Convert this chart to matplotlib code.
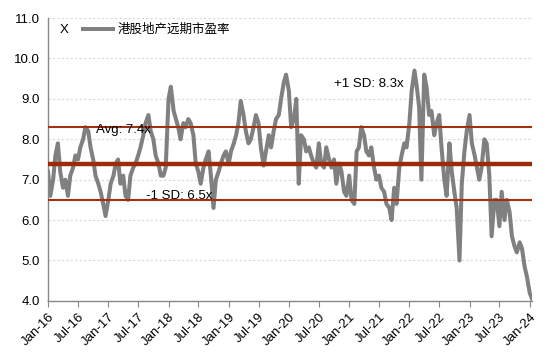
import pandas as pd
import matplotlib
matplotlib.use("Agg")
import matplotlib.pyplot as plt
import matplotlib.dates as mdates

plt.rcParams['font.family'] = ['Liberation Sans', 'Noto Sans CJK SC', 'DejaVu Sans']

series_name = '港股地产远期市盈率'

# forward P/E, two readings a month (1st and 15th)
pe_2016 = [7.2, 6.6, 7.0, 7.6, 7.9, 7.2, 6.8, 7.0, 6.6, 7.1, 7.3, 7.6,
           7.5, 7.8, 8.0, 8.3, 8.2, 7.8, 7.5, 7.1, 6.9, 6.7, 6.4, 6.1]
pe_2017 = [6.5, 6.9, 7.1, 7.4, 7.5, 6.9, 7.1, 6.6, 6.5, 7.1, 7.3, 7.4,
           7.6, 7.8, 8.1, 8.4, 8.6, 8.2, 8.0, 7.6, 7.4, 7.1, 7.1, 7.3]
pe_2018 = [9.0, 9.3, 8.7, 8.5, 8.3, 8.0, 8.4, 8.3, 8.5, 8.4, 8.1, 7.4,
           7.2, 6.9, 7.3, 7.5, 7.7, 7.1, 6.3, 7.0, 7.2, 7.4, 7.6, 7.7]
pe_2019 = [7.4, 7.7, 7.9, 8.1, 8.4, 8.95, 8.6, 8.2, 7.9, 8.0, 8.3, 8.6,
           8.4, 7.8, 7.35, 7.7, 8.1, 7.8, 8.2, 8.5, 8.6, 9.0, 9.4, 9.6]
pe_2020 = [9.2, 8.3, 8.5, 9.0, 6.9, 8.1, 8.0, 7.7, 7.8, 7.6, 7.4, 7.3,
           7.9, 7.4, 7.3, 7.8, 7.5, 7.3, 7.5, 6.9, 7.4, 7.2, 6.7, 6.6]
pe_2021 = [7.1, 6.5, 6.4, 7.7, 7.8, 8.3, 8.1, 7.7, 7.6, 7.8, 7.3, 7.0,
           7.1, 6.8, 6.7, 6.4, 6.3, 6.0, 6.8, 6.4, 7.3, 7.6, 7.9, 7.8]
pe_2022 = [8.4, 9.2, 9.7, 9.3, 8.8, 7.0, 9.6, 9.3, 8.6, 8.7, 8.1, 8.4,
           8.6, 7.8, 7.0, 6.6, 7.9, 7.2, 6.7, 6.3, 5.0, 6.9, 7.7, 8.2]
pe_2023 = [8.6, 7.9, 7.6, 7.3, 7.0, 7.3, 8.0, 7.9, 7.1, 5.6, 6.5, 6.5,
           5.85, 6.7, 6.0, 6.5, 6.2, 5.6, 5.35, 5.2, 5.45, 5.3, 4.85, 4.6]
pe_2024 = [4.2, 4.05]

avg_pe = 7.4
plus_sd = 8.3
minus_sd = 6.5

pe = pe_2016 + pe_2017 + pe_2018 + pe_2019 + pe_2020 + pe_2021 + pe_2022 + pe_2023 + pe_2024
dates = pd.date_range('2016-01-01', periods=len(pe), freq='SMS')

fig = plt.figure(figsize=(5.5, 3.54), dpi=100)
ax = fig.add_axes([0.0873, 0.150, 0.880, 0.799])

ax.plot(dates, pe, color='#808080', linewidth=2.9, label=series_name, zorder=2)

red = '#A3300F'
ax.axhline(plus_sd, color=red, linewidth=1.5, zorder=3)
ax.axhline(avg_pe, color='#9C2A0C', linewidth=3.2, zorder=3)
ax.axhline(minus_sd, color=red, linewidth=1.5, zorder=3)

ax.text(pd.Timestamp('2016-10-20'), 8.23, 'Avg: 7.4x', fontsize=9.5, va='center', zorder=4)
ax.text(pd.Timestamp('2020-10-01'), 9.37, '+1 SD: 8.3x', fontsize=9.5, va='center', zorder=4)
ax.text(pd.Timestamp('2017-08-20'), 6.6, '-1 SD: 6.5x', fontsize=9.5, va='center', zorder=4)

ax.set_ylim(4.0, 11.0)
ax.set_yticks([4, 5, 6, 7, 8, 9, 10, 11])
ax.yaxis.set_major_formatter(matplotlib.ticker.FormatStrFormatter('%.1f'))
ax.set_xlim(pd.Timestamp('2016-01-01'), pd.Timestamp('2024-01-15'))
ax.xaxis.set_major_locator(mdates.MonthLocator(bymonth=[1, 7]))
ax.xaxis.set_major_formatter(mdates.DateFormatter('%b-%y'))

for lab in ax.get_xticklabels():
    lab.set_rotation(45)
    lab.set_ha('right')
    lab.set_rotation_mode('anchor')

ax.tick_params(axis='x', length=4, color='#888888', labelsize=9.5, pad=3)
ax.tick_params(axis='y', length=0, labelsize=9.5, pad=6)

ax.yaxis.grid(True, color='#d9d9d9', linestyle=(0, (2, 2)), linewidth=0.8)
ax.set_axisbelow(True)
for s in ['top', 'right']:
    ax.spines[s].set_visible(False)
for s in ['left', 'bottom']:
    ax.spines[s].set_color('#888888')
    ax.spines[s].set_linewidth(1.0)

ax.text(0.025, 0.958, 'X', transform=ax.transAxes, fontsize=9.5, va='center')
ax.legend(loc='center left', bbox_to_anchor=(0.072, 0.958), frameon=False,
          borderaxespad=0, borderpad=0, handlelength=2.4, handletextpad=0.35,
          fontsize=9)

fig.savefig('out.png', dpi=100)
